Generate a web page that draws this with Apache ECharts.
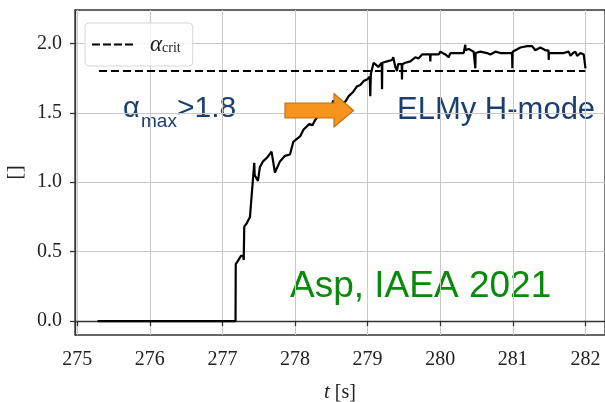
<!DOCTYPE html>
<html>
<head>
<meta charset="utf-8">
<script src="https://cdn.jsdelivr.net/npm/echarts@6/dist/echarts.min.js"></script>
<style>html,body{margin:0;padding:0;background:#fff;}#c{width:605px;height:402px;}</style>
</head>
<body>
<div id="c"></div>
<script>
// time [s]
const tData = [275.28, 277.181, 277.184, 277.21, 277.256, 277.287, 277.294, 277.301, 277.33, 277.38,
  277.439, 277.445, 277.49, 277.517, 277.56, 277.62, 277.677, 277.724, 277.793, 277.862,
  277.931, 277.976, 278.022, 278.07, 278.118, 278.16, 278.2, 278.24, 278.28, 278.33,
  278.38, 278.441, 278.49, 278.528, 278.535, 278.583, 278.64, 278.693, 278.74, 278.8,
  278.854, 278.9, 278.95, 278.992, 279.03, 279.037, 279.045, 279.083, 279.148, 279.195,
  279.199, 279.203, 279.268, 279.337, 279.354, 279.382, 279.405, 279.42, 279.47, 279.474,
  279.478, 279.520, 279.589, 279.658, 279.70, 279.750, 279.819, 279.86, 279.864, 279.868,
  279.888, 279.94, 279.979, 280.002, 280.071, 280.116, 280.14, 280.232, 280.323, 280.342,
  280.346, 280.35, 280.392, 280.461, 280.48, 280.484, 280.488, 280.553, 280.646, 280.691,
  280.760, 280.829, 280.921, 280.99, 280.994, 280.998, 281.012, 281.105, 281.197, 281.266,
  281.311, 281.380, 281.449, 281.491, 281.495, 281.499, 281.541, 281.632, 281.701, 281.770,
  281.794, 281.83, 281.862, 281.886, 281.931, 281.977, 282.0, 282.001];
// alpha_max
const alphaData = [0, 0, 0.41, 0.43, 0.47, 0.47, 0.44, 0.68, 0.70, 0.75,
  1.14, 1.05, 1.01, 1.11, 1.15, 1.18, 1.22, 1.07, 1.15, 1.19,
  1.20, 1.29, 1.31, 1.33, 1.38, 1.40, 1.42, 1.41, 1.45, 1.48,
  1.49, 1.52, 1.53, 1.59, 1.54, 1.54, 1.56, 1.58, 1.62, 1.65,
  1.69, 1.70, 1.73, 1.74, 1.76, 1.62, 1.78, 1.86, 1.83, 1.86,
  1.67, 1.86, 1.87, 1.88, 1.90, 1.83, 1.80, 1.85, 1.85, 1.74,
  1.85, 1.86, 1.87, 1.90, 1.89, 1.92, 1.92, 1.92, 1.87, 1.92,
  1.93, 1.92, 1.92, 1.94, 1.92, 1.90, 1.93, 1.93, 1.93, 1.93,
  1.99, 1.95, 1.96, 1.94, 1.94, 1.82, 1.93, 1.94, 1.93, 1.92,
  1.94, 1.93, 1.93, 1.93, 1.82, 1.94, 1.95, 1.97, 1.98, 1.98,
  1.95, 1.97, 1.95, 1.95, 1.88, 1.93, 1.93, 1.93, 1.93, 1.94,
  1.91, 1.93, 1.94, 1.91, 1.93, 1.92, 1.92, 1.82];
// alpha_crit
const critT = [275.3, 282.0];
const critVal = [1.8, 1.8];
// ticks
const xTicks = [275, 276, 277, 278, 279, 280, 281, 282];
const yTicks = [0, 0.5, 1.0, 1.5, 2.0];

const chart = echarts.init(document.getElementById('c'), null, {renderer: 'canvas'});
const serif = "'Liberation Serif', 'DejaVu Serif', serif";
const frameColor = '#333';
const gridColor = '#c8c8c8';
const blue = '#1b3f6e';

const option = {
  animation: false,
  backgroundColor: '#fff',
  grid: {left: 75, top: 10, right: 0, bottom: 67, containLabel: false, outerBoundsMode: 'none',
    show: true, borderColor: frameColor, borderWidth: 1.3, backgroundColor: 'transparent'},
  xAxis: {
    type: 'value', min: 274.97, max: 282.27,
    axisLine: {show: true, lineStyle: {color: frameColor, width: 1.3}},
    axisTick: {show: true, inside: false, length: 5, customValues: xTicks, lineStyle: {color: frameColor, width: 1.3}},
    axisLabel: {customValues: xTicks, margin: 15, color: '#222', fontFamily: serif, fontSize: 20, formatter: v => String(Math.round(v))},
    splitLine: {show: true, lineStyle: {color: gridColor, width: 1}},
    name: '{i|t} [s]', nameLocation: 'middle', nameGap: 47,
    nameTextStyle: {color: '#222', fontFamily: serif, fontSize: 20, rich: {i: {fontFamily: serif, fontStyle: 'italic', fontSize: 21, color: '#222'}}}
  },
  yAxis: {
    type: 'value', min: -0.1, max: 2.24,
    axisLine: {show: true, lineStyle: {color: frameColor, width: 1.3}},
    axisTick: {show: true, inside: false, length: 5, customValues: yTicks, lineStyle: {color: frameColor, width: 1.3}},
    axisLabel: {customValues: yTicks, margin: 13, color: '#222', fontFamily: serif, fontSize: 20, formatter: v => v.toFixed(1)},
    splitLine: {show: true, lineStyle: {color: gridColor, width: 1}},
    name: '[]', nameLocation: 'middle', nameGap: 45, nameRotate: 90,
    nameTextStyle: {color: '#222', fontFamily: serif, fontSize: 22}
  },
  legend: {
    show: true, left: 85, top: 23,
    data: [{name: 'crit', icon: 'path://M0,0h8v2h-8z M11,0h8v2h-8z M22,0h8v2h-8z M33,0h8v2h-8z'}],
    itemWidth: 41, itemHeight: 2, itemGap: 10,
    padding: [10, 12, 10, 7],
    backgroundColor: 'rgba(255,255,255,0.8)', borderColor: '#d6d6d6', borderWidth: 1, borderRadius: 4,
    itemStyle: {color: '#000', borderWidth: 0},
    formatter: () => '{a|α}{s|crit}',
    textStyle: {
      color: '#222', padding: [0, 0, 0, 12],
      rich: {
        a: {fontFamily: serif, fontStyle: 'italic', fontSize: 23, color: '#222'},
        s: {fontFamily: serif, fontSize: 14, color: '#222', padding: [8, 0, 0, 0]}
      }
    }
  },
  series: [
    {
      name: 'alpha', type: 'line', showSymbol: false, symbol: 'none',
      data: tData.map((t, i) => [t, alphaData[i]]),
      lineStyle: {color: '#000', width: 2.2}, z: 3
    },
    {
      name: 'crit', type: 'line', showSymbol: false, symbol: 'none',
      data: critT.map((t, i) => [t, critVal[i]]),
      lineStyle: {color: '#000', width: 2, type: [8, 4]}, itemStyle: {color: '#000'}, z: 2
    }
  ],
  graphic: [
    {type: 'text', x: 123, y: 109, style: {text: 'α', font: "29px 'Liberation Sans', Arial, sans-serif", fill: blue, align: 'left', verticalAlign: 'middle'}},
    {type: 'text', x: 141, y: 122, style: {text: 'max', font: "19px 'Liberation Sans', Arial, sans-serif", fill: blue, align: 'left', verticalAlign: 'middle'}},
    {type: 'text', x: 177, y: 109, style: {text: '>1.8', font: "30px 'Liberation Sans', Arial, sans-serif", fill: blue, align: 'left', verticalAlign: 'middle'}},
    {type: 'text', x: 397, y: 110, style: {text: 'ELMy H-mode', font: "31px 'Liberation Sans', Arial, sans-serif", fill: blue, align: 'left', verticalAlign: 'middle'}},
    {type: 'text', x: 290, y: 287, style: {text: 'Asp, IAEA 2021', font: "37px 'Liberation Sans', Arial, sans-serif", fill: '#0a8a0a', align: 'left', verticalAlign: 'middle'}},
    {type: 'polygon', z: 100,
      shape: {points: [[285, 103], [334, 103], [334, 93.5], [353.5, 110.5], [334, 127], [334, 118], [285, 118]]},
      style: {fill: '#f7941d', stroke: '#c46f12', lineWidth: 1.2}}
  ]
};
chart.setOption(option);
</script>
</body>
</html>
